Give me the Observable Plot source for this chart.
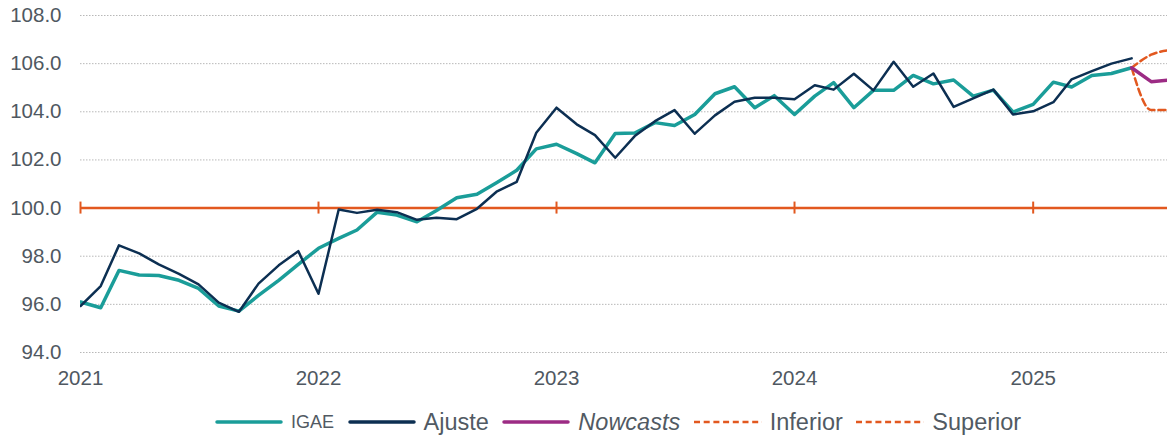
<!DOCTYPE html>
<html>
<head>
<meta charset="utf-8">
<script src="https://cdn.jsdelivr.net/npm/d3@7"></script>
<script src="https://cdn.jsdelivr.net/npm/@observablehq/plot@0.6"></script>
<style>
  html, body { margin: 0; padding: 0; background: #fff; overflow: hidden; }
  #wrap { position: relative; width: 1167px; height: 438px; }
  #legend { position: absolute; left: 215px; top: 410px; height: 24px; display: flex; align-items: center;
            font-family: "Liberation Sans", Arial, sans-serif; font-size: 23.5px; color: #515a63; white-space: nowrap; }
  #legend .item { display: flex; align-items: center; margin-right: 13.5px; }
  #legend svg { display: block; margin-right: 8px; }
</style>
</head>
<body>
<div id="wrap"><div id="chart"></div><div id="legend"></div></div>
<script>
// ---- data ----
const igaeStart = "2021-01-01";
const igae = [96.10, 95.86, 97.41, 97.22, 97.20, 97.00, 96.66, 95.93, 95.72, 96.37, 97.00, 97.66,
              98.33, 98.74, 99.09, 99.83, 99.71, 99.43, 99.90, 100.43, 100.57, 101.05, 101.57, 102.46,
              102.65, 102.26, 101.88, 103.10, 103.12, 103.55, 103.43, 103.89, 104.75, 105.04, 104.17, 104.67,
              103.89, 104.65, 105.21, 104.17, 104.89, 104.89, 105.51, 105.16, 105.32, 104.65, 104.90, 103.99,
              104.31, 105.23, 105.03, 105.51, 105.59, 105.83];
const ajuste = [95.93, 96.76, 98.45, 98.12, 97.66, 97.27, 96.83, 96.07, 95.69, 96.86, 97.62, 98.21,
                96.44, 99.94, 99.80, 99.93, 99.83, 99.51, 99.60, 99.54, 99.97, 100.68, 101.09, 103.13,
                104.17, 103.48, 103.03, 102.09, 102.99, 103.61, 104.07, 103.09, 103.85, 104.42, 104.58, 104.58,
                104.52, 105.10, 104.92, 105.58, 104.89, 106.08, 105.04, 105.59, 104.20, 104.56, 104.92, 103.89,
                104.02, 104.40, 105.35, 105.69, 106.00, 106.22];
const nowcastDates = ["2025-06-01", "2025-07-01", "2025-08-01"];
const nowcasts = [105.83, 105.25, 105.33];
const inferior = [105.83, 104.07, 104.07];
const superior = [105.83, 106.37, 106.57];
const yTicks = [94, 96, 98, 100, 102, 104, 106, 108];
const xTickLabels = ["2021", "2022", "2023", "2024", "2025"];
const xDomain = ["2021-01-01", "2025-07-26"];

// ---- styles ----
const C = {teal: "#1a9d99", navy: "#0c2f52", purple: "#9c2b84", orange: "#e2581f", grid: "#b8b8b8", text: "#4f5861"};

const monthly = (start, vals) => vals.map((v, i) => {
  const d = new Date(start); d.setUTCMonth(d.getUTCMonth() + i); return {date: d, value: v};
});
const igaeData = monthly(igaeStart, igae);
const ajusteData = monthly(igaeStart, ajuste);
const toRows = (vals) => vals.map((v, i) => ({date: new Date(nowcastDates[i]), value: v}));
const xTicks = xTickLabels.map(y => new Date(`${y}-01-01`));

const plot = Plot.plot({
  width: 1167,
  height: 395,
  marginLeft: 80,
  marginRight: 0,
  marginTop: 15,
  marginBottom: 43,
  style: {fontFamily: "'Liberation Sans', Arial, sans-serif", fontSize: "20.5px", color: C.text, background: "#fff", overflow: "hidden"},
  x: {type: "utc", domain: xDomain.map(d => new Date(d)), ticks: xTicks, tickFormat: d3.utcFormat("%Y"), tickSize: 0, tickPadding: 18, label: null},
  y: {domain: [94, 108], ticks: yTicks, tickFormat: d => d.toFixed(1), tickSize: 0, tickPadding: 19, label: null},
  marks: [
    Plot.ruleY(yTicks.filter(v => v !== 100), {stroke: C.grid, strokeWidth: 1, strokeDasharray: "1.5,1.5"}),
    Plot.ruleY([100], {stroke: C.orange, strokeWidth: 2.5}),
    Plot.ruleX(xTicks, {x: d => d, y1: 100, y2: 100, insetTop: -6, insetBottom: -6, stroke: C.orange, strokeWidth: 2}),
    Plot.line(igaeData, {x: "date", y: "value", stroke: C.teal, strokeWidth: 3.5, clip: true}),
    Plot.line(ajusteData, {x: "date", y: "value", stroke: C.navy, strokeWidth: 2.5, clip: true}),
    Plot.line(toRows(inferior), {x: "date", y: "value", stroke: C.orange, strokeWidth: 2.5, strokeDasharray: "7,4", curve: "monotone-x", clip: true}),
    Plot.line(toRows(superior), {x: "date", y: "value", stroke: C.orange, strokeWidth: 2.5, strokeDasharray: "7,4", curve: "monotone-x", clip: true}),
    Plot.line(toRows(nowcasts), {x: "date", y: "value", stroke: C.purple, strokeWidth: 3.5, clip: true})
  ]
});
document.getElementById("chart").appendChild(plot);

// ---- legend ----
const legendItems = [
  {label: "IGAE", color: C.teal, dash: null, size: "18px", italic: false},
  {label: "Ajuste", color: C.navy, dash: null, size: null, italic: false},
  {label: "Nowcasts", color: C.purple, dash: null, size: null, italic: true},
  {label: "Inferior", color: C.orange, dash: "6,3.7", size: null, italic: false},
  {label: "Superior", color: C.orange, dash: "6,3.7", size: null, italic: false}
];
const legend = document.getElementById("legend");
legendItems.forEach(it => {
  const item = document.createElement("div");
  item.className = "item";
  const dashAttr = it.dash ? `stroke-dasharray="${it.dash}"` : `stroke-linecap="round"`;
  const sw = it.dash ? 2.5 : 3.5;
  item.innerHTML = `<svg width="68" height="10"><line x1="${it.dash ? 0 : 2}" x2="${it.dash ? 68 : 66}" y1="5" y2="5" stroke="${it.color}" stroke-width="${sw}" ${dashAttr}/></svg>`;
  const span = document.createElement("span");
  span.textContent = it.label;
  if (it.size) span.style.fontSize = it.size;
  if (it.italic) span.style.fontStyle = "italic";
  item.appendChild(span);
  legend.appendChild(item);
});
</script>
</body>
</html>
